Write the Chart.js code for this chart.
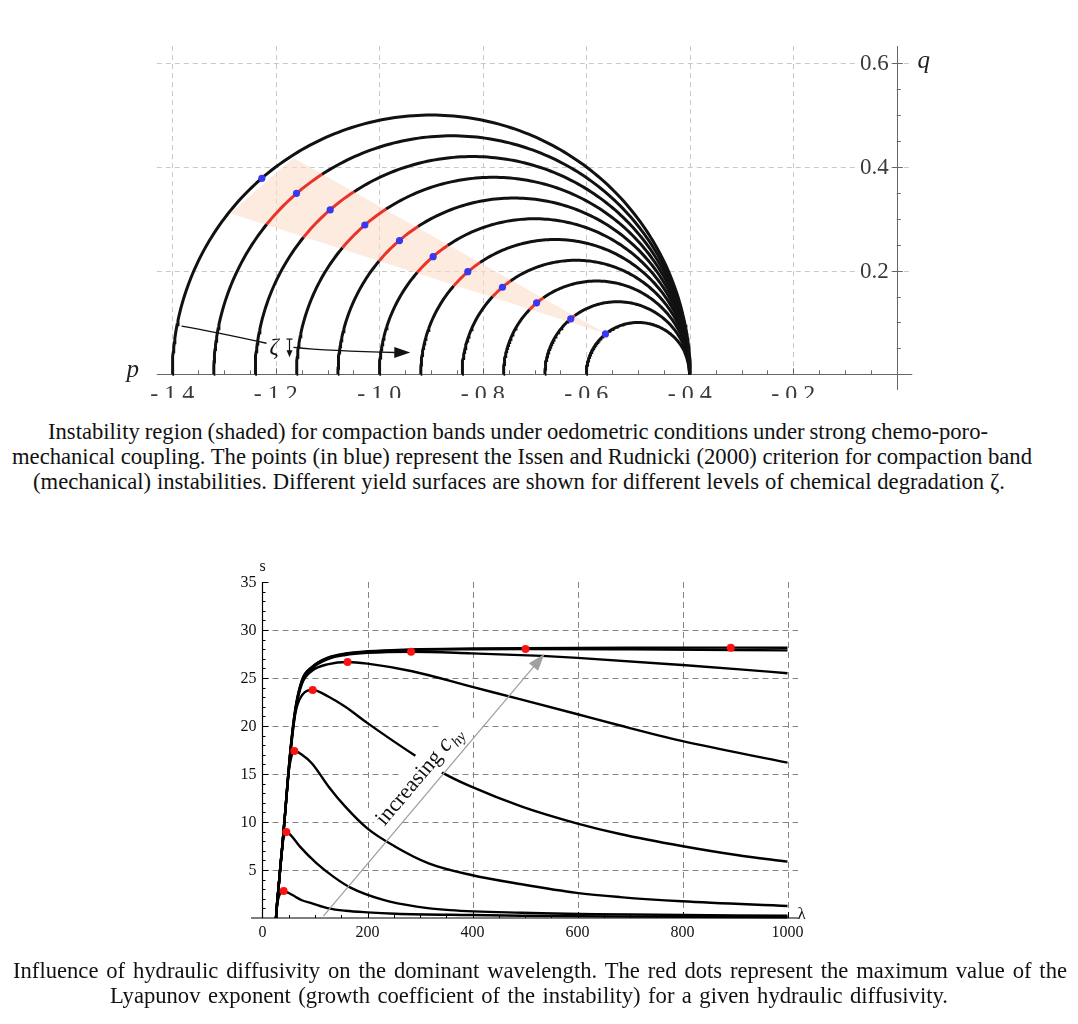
<!DOCTYPE html>
<html lang="en">
<head>
<meta charset="UTF-8">
<meta name="viewport" content="width=device-width, initial-scale=1.0">
<title>Compaction bands and hydraulic diffusivity</title>
<style>
    body {
        margin: 0;
        background: #ffffff;
        font-family: "Liberation Serif", "Times New Roman", serif;
    }

    .page {
        position: relative;
        width: 1078px;
        height: 1024px;
        overflow: hidden;
    }

    .chart-box {
        position: absolute;
        left: 0;
        width: 1078px;
    }

    #topBox { top: 0; height: 398px; }
    #botBox { top: 550px; height: 410px; }

    .cap {
        position: absolute;
        text-align: left;
        font-size: 22px;
        line-height: 25px;
        color: #111;
        white-space: nowrap;
    }
</style>
</head>
<body>
<div class="page">
    <div class="chart-box" id="topBox"><canvas id="yieldChart"></canvas></div>

    <!-- data-from / data-to: horizontal extent of each caption line -->
    <div class="cap" style="top:419px;" data-from="48" data-to="988"><span>Instability region (shaded) for compaction bands under oedometric conditions under strong chemo-poro-</span></div>
    <div class="cap" style="top:444px;" data-from="12" data-to="1032"><span id="capRef">mechanical coupling. The points (in blue) represent the Issen and Rudnicki (2000) criterion for compaction band</span></div>
    <div class="cap" style="top:469px;" data-from="33" data-to="1005"><span>(mechanical) instabilities. Different yield surfaces are shown for different levels of chemical degradation ζ.</span></div>

    <div class="chart-box" id="botBox"><canvas id="lyapChart"></canvas></div>

    <div class="cap" style="top:958px;" data-from="13" data-to="1067"><span>Influence of hydraulic diffusivity on the dominant wavelength. The red dots represent the maximum value of the</span></div>
    <div class="cap" style="top:983px;" data-from="110" data-to="948"><span>Lyapunov exponent (growth coefficient of the instability) for a given hydraulic diffusivity.</span></div>
</div>

<script src="https://cdn.jsdelivr.net/npm/chart.js"></script>
<script>
    // ===== top chart: yield surfaces in the p-q plane =====
    // left end of each semicircle (all of them close at p = -0.4)
    const surfaceLeftP = [-1.40, -1.32, -1.24, -1.16, -1.08, -1.00, -0.92, -0.84, -0.76, -0.68, -0.60];
    const surfaceRightP = -0.4;

    // Issen & Rudnicki points (blue)
    const issenP = [-1.227, -1.160, -1.095, -1.028, -0.961, -0.896, -0.829, -0.762, -0.696, -0.630, -0.563];
    const issenQ = [0.378, 0.349, 0.317, 0.288, 0.258, 0.227, 0.198, 0.168, 0.138, 0.107, 0.078];

    // shaded instability region (corners)
    const bandP = [-1.166, -0.560, -1.288];
    const bandQ = [0.417, 0.078, 0.3105];

    const pTicks = [-1.4, -1.2, -1.0, -0.8, -0.6, -0.4, -0.2];
    const pTickLabels = ["- 1.4", "- 1.2", "- 1.0", "- 0.8", "- 0.6", "- 0.4", "- 0.2"];
    const qTicks = [0.2, 0.4, 0.6];
    const qTickLabels = ["0.2", "0.4", "0.6"];

    // curved arrow with the zeta label
    const zetaHeadP = [-1.382, -1.308, -1.218];
    const zetaHeadQ = [0.093, 0.079, 0.060];
    const zetaTailP = [-1.166, -1.082, -0.944];
    const zetaTailQ = [0.052, 0.046, 0.042];

    // ===== bottom chart: growth coefficient s vs wavelength lambda =====
    const c1Lam = [25.7, 28, 31, 35, 40.3, 50, 62.5, 75, 94.3, 126, 157.7, 199.6, 253, 397.7, 494, 700, 1000];
    const c1S   = [0, 1.4, 2.2, 2.65, 2.81, 2.6, 2.22, 1.85, 1.53, 1.01, 0.76, 0.59, 0.45, 0.31, 0.24, 0.14, 0.08];

    const c2Lam = [25.7, 28, 30.8, 34, 37.5, 41, 45.4, 55, 71.4, 103.2, 134.9, 166.7, 230.2, 293.7, 357.1, 494, 700, 1000];
    const c2S   = [0, 1.6, 3.3, 5.4, 7.4, 8.5, 8.96, 8.55, 7.43, 5.69, 4.31, 3.19, 1.88, 1.18, 0.82, 0.55, 0.36, 0.24];

    const c3Lam = [25.7, 28, 30.8, 34, 37.1, 43.5, 48, 53, 60.6, 75.2, 94.3, 126, 157.7, 199.6, 253, 316.5, 397.7, 494, 598.4, 681, 798.4, 1000];
    const c3S   = [0, 1.7, 3.3, 5.3, 7.1, 11.2, 14.3, 16.3, 17.4, 17.0, 16.1, 13.68, 11.6, 9.34, 7.43, 5.70, 4.48, 3.51, 2.62, 2.18, 1.74, 1.25];

    const c4Lam = [25.7, 28, 30.8, 34, 37.1, 43.5, 53, 62.5, 75.2, 95.6, 126, 157.7, 200, 294, 345, 397.7, 494, 598.4, 681, 798.4, 903, 1000];
    const c4S   = [0, 1.7, 3.3, 5.3, 7.1, 11.2, 17.0, 21.3, 23.2, 23.75, 23.05, 22.0, 20.3, 16.8, 15.07, 13.68, 11.6, 9.86, 8.75, 7.5, 6.56, 5.87];

    const c5Lam = [25.7, 28, 30.8, 34, 37.1, 43.5, 53, 62.5, 75.2, 94.3, 126, 162, 200, 285, 397.7, 490, 598.4, 681, 798.4, 1000];
    const c5S   = [0, 1.7, 3.3, 5.3, 7.1, 11.2, 17.2, 21.5, 24.4, 25.75, 26.45, 26.67, 26.5, 25.7, 24.1, 22.8, 21.25, 20.05, 18.45, 16.18];

    const c6Lam = [25.7, 28, 30.8, 34, 37.1, 43.5, 53, 62.5, 75.2, 94.3, 126, 158, 200, 283, 397.7, 532, 600, 800, 909, 1000];
    const c6S   = [0, 1.7, 3.3, 5.3, 7.1, 11.2, 17.3, 21.6, 24.6, 26.0, 27.0, 27.4, 27.62, 27.74, 27.57, 27.3, 27.1, 26.35, 25.9, 25.5];

    const c7Lam = [25.7, 28, 30.8, 34, 37.1, 43.5, 53, 62.5, 75.2, 94.3, 126, 158, 200, 283, 400, 501, 700, 1000];
    const c7S   = [0, 1.7, 3.3, 5.3, 7.1, 11.2, 17.3, 21.7, 24.7, 26.1, 27.1, 27.5, 27.72, 27.92, 28.0, 28.02, 27.98, 27.88];

    const c8Lam = [25.7, 28, 30.8, 34, 37.1, 43.5, 53, 62.5, 75.2, 94.3, 126, 158, 200, 283, 400, 500, 700, 892, 1000];
    const c8S   = [0, 1.7, 3.3, 5.3, 7.1, 11.2, 17.4, 21.8, 24.8, 26.15, 27.15, 27.55, 27.78, 27.98, 28.07, 28.11, 28.15, 28.16, 28.15];

    // maxima of each curve (red dots)
    const peakLam = [40.3, 45.4, 60.6, 95.6, 162, 283, 501, 892];
    const peakS   = [2.81, 8.96, 17.4, 23.75, 26.67, 27.74, 28.02, 28.16];

    const lamTicks = [0, 200, 400, 600, 800, 1000];
    const lamTickLabels = ["0", "200", "400", "600", "800", "1000"];
    const sTicks = [5, 10, 15, 20, 25, 30, 35];
    const sTickLabels = ["5", "10", "15", "20", "25", "30", "35"];

    // grey "increasing c_hy" arrow, start and end
    const arrowLam = [116, 537];
    const arrowS = [0.2, 27.5];

    const SERIF = '"Liberation Serif", "Times New Roman", serif';
    const RED_ARC = "#e8342a";

    // captions: font size from the long line, then stretch spaces like justified text
    const capRef = document.getElementById("capRef");
    const capSize = 22 * 1020 / capRef.getBoundingClientRect().width;
    document.querySelectorAll(".cap").forEach(el => {
        el.style.fontSize = capSize.toFixed(2) + "px";
        const from = +el.dataset.from, to = +el.dataset.to;
        const span = el.querySelector("span");
        const w = span.getBoundingClientRect().width;
        const gaps = (span.textContent.match(/ /g) || []).length;
        el.style.left = from + "px";
        if (gaps > 0) span.style.wordSpacing = ((to - from - w) / gaps).toFixed(3) + "px";
    });

    // ---------- helpers ----------
    function toPoints(xs, ys) {
        return xs.map((x, i) => ({ x: x, y: ys[i] }));
    }

    function semicircle(left) {
        const c = (left + surfaceRightP) / 2;
        const r = (surfaceRightP - left) / 2;
        const pts = [];
        for (let k = 0; k <= 180; k++) {
            const a = Math.PI * k / 180;
            pts.push({ x: c - r * Math.cos(a), y: r * Math.sin(a) });
        }
        return pts;
    }

    function insideBand(pt) {
        let sign = 0;
        for (let i = 0; i < 3; i++) {
            const j = (i + 1) % 3;
            const cr = (bandP[j] - bandP[i]) * (pt.y - bandQ[i]) - (bandQ[j] - bandQ[i]) * (pt.x - bandP[i]);
            const s = cr > 0 ? 1 : -1;
            if (sign === 0) sign = s;
            else if (s !== sign) return false;
        }
        return true;
    }

    function arrowHead(ctx, tipX, tipY, fromX, fromY, len, half) {
        const ang = Math.atan2(tipY - fromY, tipX - fromX);
        ctx.beginPath();
        ctx.moveTo(tipX, tipY);
        ctx.lineTo(tipX - len * Math.cos(ang) + half * Math.sin(ang), tipY - len * Math.sin(ang) - half * Math.cos(ang));
        ctx.lineTo(tipX - len * Math.cos(ang) - half * Math.sin(ang), tipY - len * Math.sin(ang) + half * Math.cos(ang));
        ctx.closePath();
        ctx.fill();
    }

    // quadratic curve passing through three points
    function curveThrough(ctx, px, py) {
        const cx = 2 * px[1] - (px[0] + px[2]) / 2;
        const cy = 2 * py[1] - (py[0] + py[2]) / 2;
        ctx.beginPath();
        ctx.moveTo(px[0], py[0]);
        ctx.quadraticCurveTo(cx, cy, px[2], py[2]);
        ctx.stroke();
    }

    // ---------- top chart decorations ----------
    const topDecor = {
        id: "topDecor",
        beforeDatasetsDraw(chart) {
            const ctx = chart.ctx;
            const xs = chart.scales.x, ys = chart.scales.y;
            const area = chart.chartArea;
            const y0 = ys.getPixelForValue(0);
            const x0 = xs.getPixelForValue(0);
            ctx.save();

            // dashed grid
            ctx.strokeStyle = "#c8c8c8";
            ctx.lineWidth = 1;
            ctx.setLineDash([5, 4]);
            qTicks.forEach(q => {
                const y = Math.round(ys.getPixelForValue(q)) + 0.5;
                ctx.beginPath(); ctx.moveTo(area.left, y); ctx.lineTo(area.right, y); ctx.stroke();
            });
            pTicks.forEach(p => {
                const x = Math.round(xs.getPixelForValue(p)) + 0.5;
                ctx.beginPath(); ctx.moveTo(x, area.top); ctx.lineTo(x, y0); ctx.stroke();
            });
            ctx.setLineDash([]);

            // shaded instability region
            ctx.fillStyle = "rgba(250, 222, 200, 0.6)";
            ctx.beginPath();
            bandP.forEach((p, i) => {
                const x = xs.getPixelForValue(p), y = ys.getPixelForValue(bandQ[i]);
                if (i === 0) ctx.moveTo(x, y); else ctx.lineTo(x, y);
            });
            ctx.closePath();
            ctx.fill();

            // axes
            ctx.strokeStyle = "#666";
            ctx.lineWidth = 1;
            const ya = Math.round(y0) + 0.5, xa = Math.round(x0) + 0.5;
            ctx.beginPath(); ctx.moveTo(area.left, ya); ctx.lineTo(area.right, ya); ctx.stroke();
            ctx.beginPath(); ctx.moveTo(xa, area.top); ctx.lineTo(xa, area.bottom); ctx.stroke();

            // ticks every 0.05
            for (let k = -28; k <= 0; k++) {
                const x = Math.round(xs.getPixelForValue(k * 0.05)) + 0.5;
                const len = (k % 4 === 0) ? 6 : 4;
                ctx.beginPath(); ctx.moveTo(x, y0); ctx.lineTo(x, y0 - len); ctx.stroke();
            }
            for (let k = 1; k <= 12; k++) {
                const y = Math.round(ys.getPixelForValue(k * 0.05)) + 0.5;
                const major = k % 4 === 0;
                ctx.beginPath(); ctx.moveTo(x0 - (major ? 5 : 0), y); ctx.lineTo(x0 + (major ? 6 : 4), y); ctx.stroke();
            }
            ctx.restore();
        },
        afterDatasetsDraw(chart) {
            const ctx = chart.ctx;
            const xs = chart.scales.x, ys = chart.scales.y;
            const y0 = ys.getPixelForValue(0);
            const x0 = xs.getPixelForValue(0);
            ctx.save();

            // tick labels
            ctx.fillStyle = "#3a3a3a";
            ctx.font = "24px " + SERIF;
            ctx.textAlign = "center";
            ctx.textBaseline = "alphabetic";
            pTicks.forEach((p, i) => ctx.fillText(pTickLabels[i], xs.getPixelForValue(p), y0 + 27));

            ctx.font = "23px " + SERIF;
            ctx.textAlign = "right";
            ctx.textBaseline = "middle";
            qTicks.forEach((q, i) => {
                const y = ys.getPixelForValue(q);
                const w = ctx.measureText(qTickLabels[i]).width;
                ctx.fillStyle = "#fff";
                ctx.fillRect(x0 - 8 - w - 3, y - 11, w + 5, 22);
                ctx.fillStyle = "#3a3a3a";
                ctx.fillText(qTickLabels[i], x0 - 8, y + 1);
            });

            // axis names
            ctx.font = "italic 25px " + SERIF;
            ctx.fillStyle = "#222";
            ctx.textAlign = "center";
            ctx.textBaseline = "alphabetic";
            ctx.fillText("p", chart.chartArea.left - 24, y0 + 3);
            ctx.fillText("q", x0 + 27, ys.getPixelForValue(0.6) + 5);

            // curved arrow with zeta
            ctx.strokeStyle = "#111";
            ctx.fillStyle = "#111";
            ctx.lineWidth = 1.4;
            curveThrough(ctx, zetaHeadP.map(v => xs.getPixelForValue(v)), zetaHeadQ.map(v => ys.getPixelForValue(v)));
            const tx = zetaTailP.map(v => xs.getPixelForValue(v));
            const ty = zetaTailQ.map(v => ys.getPixelForValue(v));
            const tailEndX = tx[2] - 12;
            curveThrough(ctx, [tx[0], tx[1], tailEndX], [ty[0], ty[1], ty[2]]);
            arrowHead(ctx, tx[2] + 2, ty[2], tx[1], ty[1] + (ty[2] - ty[1]) * 0.6, 16, 5.5);

            ctx.font = "italic 23px " + SERIF;
            ctx.textAlign = "center";
            ctx.textBaseline = "middle";
            ctx.fillText("\u03B6", xs.getPixelForValue(-1.203), ys.getPixelForValue(0.050));

            const dx = Math.round(xs.getPixelForValue(-1.174)) + 0.5;
            const dTop = ys.getPixelForValue(0.068), dBot = ys.getPixelForValue(0.033);
            ctx.lineWidth = 1.2;
            ctx.beginPath(); ctx.moveTo(dx, dTop); ctx.lineTo(dx, dBot - 5); ctx.stroke();
            ctx.beginPath(); ctx.moveTo(dx - 3, dTop); ctx.lineTo(dx + 3, dTop); ctx.stroke();
            arrowHead(ctx, dx, dBot, dx, dTop, 7, 3);
            ctx.restore();
        }
    };

    // ---------- bottom chart decorations ----------
    const botDecor = {
        id: "botDecor",
        beforeDatasetsDraw(chart) {
            const ctx = chart.ctx;
            const xs = chart.scales.x, ys = chart.scales.y;
            const area = chart.chartArea;
            const x0 = xs.getPixelForValue(0), y0 = ys.getPixelForValue(0);
            const yTop = ys.getPixelForValue(35);
            ctx.save();

            // dashed grid
            ctx.strokeStyle = "#858585";
            ctx.lineWidth = 1;
            ctx.setLineDash([6, 4]);
            sTicks.slice(0, 6).forEach(s => {
                const y = Math.round(ys.getPixelForValue(s)) + 0.5;
                ctx.beginPath(); ctx.moveTo(x0, y); ctx.lineTo(area.right, y); ctx.stroke();
            });
            lamTicks.slice(1).forEach(l => {
                const x = Math.round(xs.getPixelForValue(l)) + 0.5;
                ctx.beginPath(); ctx.moveTo(x, yTop); ctx.lineTo(x, y0); ctx.stroke();
            });
            ctx.setLineDash([]);

            // axes
            ctx.strokeStyle = "#000";
            ctx.lineWidth = 1.2;
            ctx.beginPath(); ctx.moveTo(area.left, y0); ctx.lineTo(area.right, y0); ctx.stroke();
            ctx.beginPath(); ctx.moveTo(x0, y0); ctx.lineTo(x0, yTop); ctx.stroke();

            // ticks
            ctx.lineWidth = 1;
            for (let s = 1; s <= 35; s++) {
                const y = Math.round(ys.getPixelForValue(s)) + 0.5;
                ctx.beginPath(); ctx.moveTo(x0, y); ctx.lineTo(x0 + (s % 5 === 0 ? 6 : 3), y); ctx.stroke();
            }
            for (let l = 50; l <= 1000; l += 50) {
                const x = Math.round(xs.getPixelForValue(l)) + 0.5;
                ctx.beginPath(); ctx.moveTo(x, y0); ctx.lineTo(x, y0 - (l % 200 === 0 ? 6 : 3)); ctx.stroke();
            }

            // tick labels
            ctx.fillStyle = "#111";
            ctx.font = "16px " + SERIF;
            ctx.textAlign = "right";
            ctx.textBaseline = "middle";
            sTicks.forEach((s, i) => ctx.fillText(sTickLabels[i], x0 - 6, ys.getPixelForValue(s) + 1));
            ctx.textAlign = "center";
            lamTicks.forEach((l, i) => ctx.fillText(lamTickLabels[i], xs.getPixelForValue(l), y0 + 15));

            ctx.font = "16px " + SERIF;
            ctx.fillText("s", x0, yTop - 15);
            ctx.font = "17px " + SERIF;
            ctx.fillText("\u03BB", xs.getPixelForValue(1000) + 14, y0 - 3);
            ctx.restore();
        },
        afterDatasetsDraw(chart) {
            const ctx = chart.ctx;
            const xs = chart.scales.x, ys = chart.scales.y;
            const ax = arrowLam.map(v => xs.getPixelForValue(v));
            const ay = arrowS.map(v => ys.getPixelForValue(v));
            const ang = Math.atan2(ay[1] - ay[0], ax[1] - ax[0]);
            const len = Math.hypot(ax[1] - ax[0], ay[1] - ay[0]);
            ctx.save();

            // label along the arrow on a white patch
            ctx.translate(ax[0], ay[0]);
            ctx.rotate(ang);
            ctx.fillStyle = "#fff";
            ctx.fillRect(104, -33, 142, 31);
            ctx.fillStyle = "#111";
            ctx.textBaseline = "alphabetic";
            ctx.textAlign = "left";
            let x = 108;
            ctx.font = "22px " + SERIF;
            ctx.fillText("increasing ", x, -11);
            x += ctx.measureText("increasing ").width;
            ctx.font = "italic 24px " + SERIF;
            ctx.fillText("c", x, -11);
            x += ctx.measureText("c").width + 1;
            ctx.font = "italic 15px " + SERIF;
            ctx.fillText("hy", x, -6);

            // grey arrow
            ctx.strokeStyle = "#a0a0a0";
            ctx.fillStyle = "#a0a0a0";
            ctx.lineWidth = 1.3;
            ctx.beginPath(); ctx.moveTo(0, 0); ctx.lineTo(len - 12, 0); ctx.stroke();
            arrowHead(ctx, len, 0, 0, 0, 17, 6);
            ctx.restore();
        }
    };

    // ---------- build top chart ----------
    const surfaceSets = surfaceLeftP.map(left => {
        const pts = semicircle(left);
        return {
            data: pts,
            borderColor: "#111",
            borderWidth: 3,
            pointRadius: 0,
            tension: 0,
            order: 2,
            clip: 6,
            segment: {
                borderColor: ctx => {
                    const a = pts[ctx.p0DataIndex], b = pts[ctx.p1DataIndex];
                    return insideBand({ x: (a.x + b.x) / 2, y: (a.y + b.y) / 2 }) ? RED_ARC : "#111";
                }
            }
        };
    });

    const topCanvas = document.getElementById("yieldChart");
    new Chart(topCanvas.getContext("2d"), {
        type: "line",
        data: {
            datasets: surfaceSets.concat([{
                data: toPoints(issenP, issenQ),
                showLine: false,
                pointRadius: 3.6,
                pointBackgroundColor: "#3838f2",
                pointBorderWidth: 0,
                order: 0,
                clip: 6
            }])
        },
        options: {
            responsive: true,
            maintainAspectRatio: false,
            animation: false,
            events: [],
            layout: { padding: { left: 156.8, right: 165.7, top: 46.1, bottom: 8.1 } },
            plugins: { legend: { display: false }, tooltip: { enabled: false } },
            scales: {
                x: { type: "linear", min: -1.43, max: 0.03, display: false },
                y: { type: "linear", min: -0.03, max: 0.633, display: false }
            }
        },
        plugins: [topDecor]
    });

    // ---------- build bottom chart ----------
    const curveLams = [c1Lam, c2Lam, c3Lam, c4Lam, c5Lam, c6Lam, c7Lam, c8Lam];
    const curveSs = [c1S, c2S, c3S, c4S, c5S, c6S, c7S, c8S];
    const curveSets = curveLams.map((lams, i) => ({
        data: toPoints(lams, curveSs[i]),
        borderColor: "#000",
        borderWidth: 2.4,
        pointRadius: 0,
        cubicInterpolationMode: "monotone",
        order: 2,
        clip: 6
    }));

    const botCanvas = document.getElementById("lyapChart");
    new Chart(botCanvas.getContext("2d"), {
        type: "line",
        data: {
            datasets: curveSets.concat([{
                data: toPoints(peakLam, peakS),
                showLine: false,
                pointRadius: 4,
                pointBackgroundColor: "#ff1111",
                pointBorderWidth: 0,
                order: 0,
                clip: 6
            }])
        },
        options: {
            responsive: true,
            maintainAspectRatio: false,
            animation: false,
            events: [],
            layout: { padding: { left: 250.95, right: 280, top: 32, bottom: 42 } },
            plugins: { legend: { display: false }, tooltip: { enabled: false } },
            scales: {
                x: { type: "linear", min: -22, max: 1020, display: false },
                y: { type: "linear", min: 0, max: 35, display: false }
            }
        },
        plugins: [botDecor]
    });
</script>
</body>
</html>
